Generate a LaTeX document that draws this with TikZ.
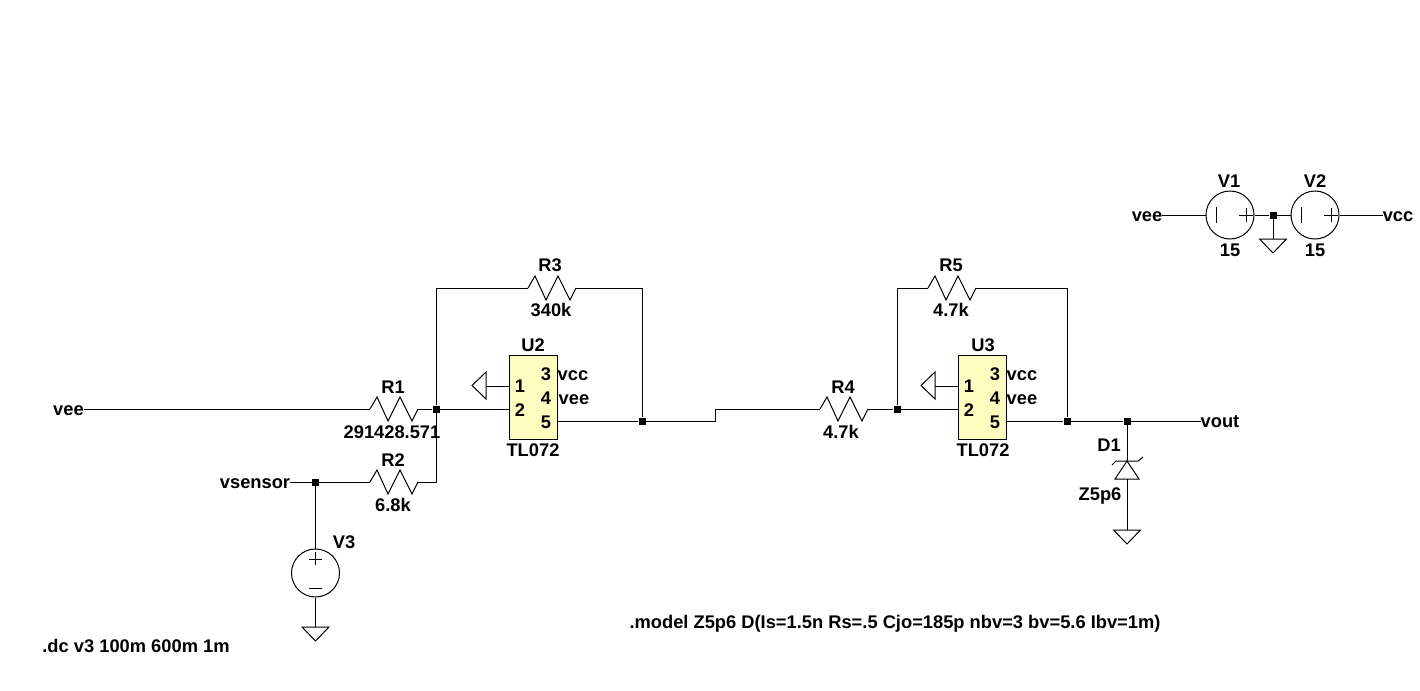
\documentclass[tikz,border=0pt]{standalone}
\usepackage{fontspec}
\setmainfont{Liberation Sans}
\usetikzlibrary{calc}
\newcommand{\resistorat}[3]{% name, left x, y
  \coordinate (#1-l) at (#2,#3);
  \coordinate (#1-r) at ({#2+48},#3);
  \draw[wire] (#1-l) -- ++(7,-12) -- ++(11,24) -- ++(12,-24) -- ++(12,24) -- (#1-r);
}
\newcommand{\groundpt}[1]{% coordinate at centre of base, pointing down
  \draw[wire] ($(#1)+(-13.5,0)$) -- ($(#1)+(13.5,0)$) -- ($(#1)+(0,14)$) -- cycle;
}
\tikzset{
  wire/.style={draw=black,line width=1pt,line join=miter},
  dotj/.style={fill=black,draw=none,minimum size=7pt,inner sep=0pt,shape=rectangle},
  lab/.style={font=\fontsize{18.3}{20}\selectfont\bfseries,inner sep=0pt,text height=13pt,text depth=0pt,anchor=center,text=black},
  src/.style={circle,draw=black,line width=1pt,minimum size=48pt,inner sep=0pt},
  chip/.style={rectangle,draw=black,line width=1pt,fill=yellow!25!white,minimum width=48pt,minimum height=84pt,inner sep=0pt}
}
\begin{document}
\begin{tikzpicture}[x=1pt,y=-1pt]
\useasboundingbox (0,0) rectangle (1420,690);
\fill[white] (0,0) rectangle (1420,690);
% chips and sources
\node[chip] (U2) at (533,397) {};
\node[chip] (U3) at (982,397) {};
\node[src] (V1) at (1230,215) {};
\node[src] (V2) at (1315,215) {};
\node[src] (V3) at (315.5,573) {};
% junctions
\node[dotj] (j1) at (436,409) {};
\node[dotj] (j2) at (642,421) {};
\node[dotj] (j3) at (897,409) {};
\node[dotj] (j4) at (1067,421) {};
\node[dotj] (j5) at (1127,421) {};
\node[dotj] (j6) at (1273,215) {};
\node[dotj] (j7) at (315.5,482) {};
% resistors
\resistorat{R1}{370}{409}
\resistorat{R2}{370}{482}
\resistorat{R3}{528}{288}
\resistorat{R4}{820}{409}
\resistorat{R5}{928}{288}
% labels
\node[lab] (tveea) at (68.5,408.5) {vee};
\node[lab] (tsens) at (255,481.5) {vsensor};
\node[lab] (tR1) at (393,386.5) {R1};
\node[lab] (vR1) at (392,431.5) {291428.571};
\node[lab] (tR2) at (393,459.5) {R2};
\node[lab] (vR2) at (393,504.5) {6.8k};
\node[lab] (tR3) at (550,265) {R3};
\node[lab] (vR3) at (551,310) {340k};
\node[lab] (tR4) at (843,386.5) {R4};
\node[lab] (vR4) at (841,431.5) {4.7k};
\node[lab] (tR5) at (951,265) {R5};
\node[lab] (vR5) at (951,310) {4.7k};
\node[lab] (tU2) at (533,344.5) {U2};
\node[lab] (vU2) at (533,449.5) {TL072};
\node[lab] (tU3) at (983,344.5) {U3};
\node[lab] (vU3) at (983,449.5) {TL072};
\node[lab] (a1) at (520,386) {1};
\node[lab] (a2) at (520,410) {2};
\node[lab] (a3) at (546,373.5) {3};
\node[lab] (a4) at (546,397.5) {4};
\node[lab] (a5) at (546,421.5) {5};
\node[lab] (b1) at (969,386) {1};
\node[lab] (b2) at (969,410) {2};
\node[lab] (b3) at (995,373.5) {3};
\node[lab] (b4) at (995,397.5) {4};
\node[lab] (b5) at (995,421.5) {5};
\node[lab] (avcc) at (573,373.5) {vcc};
\node[lab] (avee) at (574,397.5) {vee};
\node[lab] (bvcc) at (1022,373.5) {vcc};
\node[lab] (bvee) at (1022,397.5) {vee};
\node[lab] (tV1) at (1229,180.5) {V1};
\node[lab] (vV1) at (1230,249.5) {15};
\node[lab] (tV2) at (1315,180.5) {V2};
\node[lab] (vV2) at (1315,249.5) {15};
\node[lab] (tV3) at (344,542) {V3};
\node[lab] (tveeb) at (1147,215) {vee};
\node[lab] (tvcc) at (1398,215) {vcc};
\node[lab] (tD1) at (1109,445) {D1};
\node[lab] (vD1) at (1100,494) {Z5p6};
\node[lab] (tout) at (1220,420.5) {vout};
\node[lab] (cdc) at (136,646) {.dc v3 100m 600m 1m};
\node[lab] (cmod) at (895,622) {.model Z5p6 D(Is=1.5n Rs=.5 Cjo=185p nbv=3 bv=5.6 Ibv=1m)};
% wires
\draw[wire] (tveea.east |- R1-l) -- (R1-l);
\draw[wire] (R1-r) -- (j1);
\draw[wire] (j1) -- (U2.west |- j1);
\draw[wire] (tsens.east |- j7) -- (j7) -- (R2-l);
\draw[wire] (R2-r) -| (j1);
\draw[wire] (j1) |- (R3-l);
\draw[wire] (R3-r) -| (j2);
\draw[wire] (U2.east |- j2) -- (j2);
\draw[wire] (j2) -- (715,421) -- (715,409) -- (R4-l);
\draw[wire] (R4-r) -- (j3);
\draw[wire] (j3) -- (U3.west |- j3);
\draw[wire] (j3) |- (R5-l);
\draw[wire] (R5-r) -| (j4);
\draw[wire] (U3.east |- j4) -- (j4) -- (j5) -- (tout.west |- j5);
% U2 / U3 pin 1 grounds
\coordinate (gu2) at (486,386);
\coordinate (gu3) at (935,386);
\draw[wire] (U2.west |- gu2) -- (gu2);
\draw[wire] (U3.west |- gu3) -- (gu3);
\draw[wire] (486,372) -- (486,399) -- (472,385.5) -- cycle;
\draw[wire] (935,372) -- (935,399) -- (921,385.5) -- cycle;
% diode
\coordinate (dk) at (1127,461);
\coordinate (da) at (1127,479);
\coordinate (gd) at (1127,530);
\draw[wire] (j5) -- (dk);
\draw[wire] (da) -- (gd);
\draw[wire] (dk) -- (1115,479) -- (1139,479) -- cycle;
\draw[wire] (1112,465) -- (1116,461) -- (1138,461) -- (1143,457);
\groundpt{gd}
% V1 V2
\draw[wire] (tveeb.east |- V1.west) -- (V1.west);
\draw[wire] (V1.east) -- (j6) -- (V2.west);
\draw[wire] (V2.east) -- (tvcc.west |- V2.east);
\coordinate (gv) at (1273,239);
\draw[wire] (j6) -- (gv);
\groundpt{gv}
\draw[wire] (1216,207) -- (1216,223);
\draw[wire] (1239,215) -- (1253,215) (1246,208) -- (1246,222);
\draw[wire] (1301,207) -- (1301,223);
\draw[wire] (1324,215) -- (1338,215) (1331,208) -- (1331,222);
% V3
\coordinate (g3) at (315.5,627);
\draw[wire] (j7) -- (V3.north);
\draw[wire] (V3.south) -- (g3);
\groundpt{g3}
\draw[wire] (309,559) -- (322,559) (315.5,552) -- (315.5,565);
\draw[wire] (309,588) -- (322,588);
\end{tikzpicture}
\end{document}
